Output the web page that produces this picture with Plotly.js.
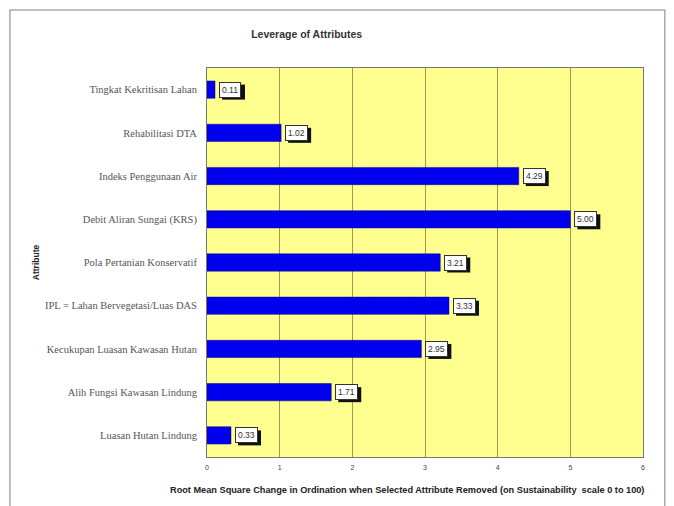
<!DOCTYPE html>
<html><head><meta charset="utf-8">
<script src="https://cdn.plot.ly/plotly-3.0.1.min.js"></script>
<style>body{margin:0;background:#fff}#c{width:674px;height:506px}</style>
</head><body><div id="c"></div>
<script>
const attributes = [
  "Tingkat Kekritisan Lahan",
  "Rehabilitasi DTA",
  "Indeks Penggunaan Air",
  "Debit Aliran Sungai (KRS)",
  "Pola Pertanian Konservatif",
  "IPL = Lahan Bervegetasi/Luas DAS",
  "Kecukupan Luasan Kawasan Hutan",
  "Alih Fungsi Kawasan Lindung",
  "Luasan Hutan Lindung"
];
const leverage = [0.11, 1.02, 4.29, 5.00, 3.21, 3.33, 2.95, 1.71, 0.33];
const xTicks = [0, 1, 2, 3, 4, 5, 6];
const xTitle = 'Root Mean Square Change in Ordination when Selected Attribute Removed (on Sustainability  scale 0 to 100)';

const labelText = leverage.map(v => v.toFixed(2));
// label boxes, anchored at each bar end
const annMain = attributes.map((a, i) => ({
  x: leverage[i], y: a, xref: 'x', yref: 'y', text: labelText[i],
  xanchor: 'left', yanchor: 'middle', xshift: 4, yshift: 0,
  showarrow: false, bgcolor: '#fff', bordercolor: '#333', borderwidth: 1, borderpad: 2,
  font: {family: 'Arial, Liberation Sans', size: 8.5, color: '#333'}
}));
// drop shadows behind label boxes (pixel-sized, anchored at bar end)
const shadows = attributes.map((a, i) => ({
  type: 'rect', xref: 'x', yref: 'y', xsizemode: 'pixel', ysizemode: 'pixel',
  xanchor: leverage[i], yanchor: i, x0: 7, x1: 30, y0: -10, y1: 5,
  fillcolor: '#111', line: {width: 0}, layer: 'above'
}));

const data = [{
  type: 'bar', orientation: 'h', x: leverage, y: attributes,
  marker: {color: '#0000ee', line: {color: '#000080', width: 0.5}},
  width: 0.4, hoverinfo: 'none'
}];

const layout = {
  width: 674, height: 506,
  margin: {l: 207, r: 31, t: 68, b: 49},
  paper_bgcolor: '#fff', plot_bgcolor: '#ffff90',
  showlegend: false,
  title: {text: '<b>Leverage of Attributes</b>', x: 0.455, xanchor: 'center', y: 0.932, yanchor: 'middle',
          font: {family: 'Arial, Liberation Sans', size: 10.5, color: '#333'}},
  xaxis: {
    range: [0, 6], tickvals: xTicks, ticktext: xTicks.map(String),
    showgrid: true, gridcolor: '#9a9a60', gridwidth: 1, zeroline: false,
    showline: true, linecolor: '#777', mirror: true, linewidth: 1,
    ticks: '', ticklabelstandoff: 4, tickfont: {family: 'Arial, Liberation Sans', size: 7, color: '#444'}
  },
  yaxis: {
    autorange: 'reversed', type: 'category',
    showgrid: false, zeroline: false,
    showline: true, linecolor: '#777', mirror: true, linewidth: 1,
    ticks: '', ticklabelstandoff: 7,
    tickfont: {family: 'Liberation Serif, Times New Roman, serif', size: 10.5, color: '#555'},
    title: {text: '<b>Attribute</b>', font: {family: 'Arial, Liberation Sans', size: 8.5, color: '#222'}, standoff: 4}
  },
  annotations: annMain.concat([{
    xref: 'paper', yref: 'paper', x: 0.459, y: -0.085, xanchor: 'center', yanchor: 'middle',
    showarrow: false, text: '<b>' + xTitle + '</b>',
    font: {family: 'Arial, Liberation Sans', size: 9.2, color: '#222'}
  }]),
  shapes: [{
    type: 'rect', xref: 'paper', yref: 'paper', x0: -0.452, x1: 1.05, y0: -0.13, y1: 1.149,
    line: {color: '#aaa', width: 1.5}, fillcolor: 'rgba(0,0,0,0)', layer: 'below'
  }].concat(shadows)
};

Plotly.newPlot('c', data, layout, {staticPlot: true});
</script></body></html>
